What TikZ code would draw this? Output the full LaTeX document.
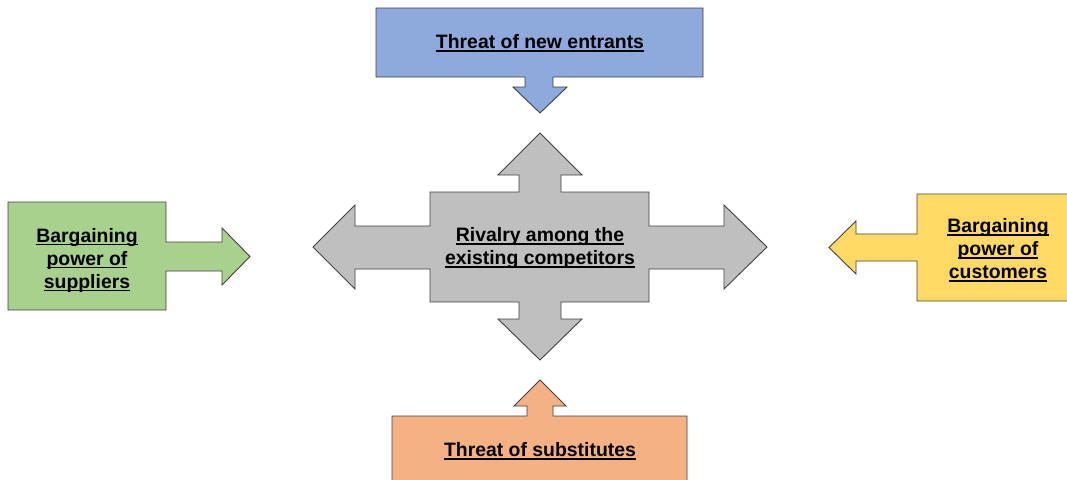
\documentclass[tikz,border=0pt]{standalone}
\usepackage{fontspec}
\setmainfont{Liberation Sans}

\definecolor{entrantblue}{HTML}{8EA9DB}
\definecolor{supplygreen}{HTML}{A9D18E}
\definecolor{customyellow}{HTML}{FFD966}
\definecolor{substorange}{HTML}{F4B183}
\definecolor{rivalgray}{HTML}{BFBFBF}

\newsavebox\ulinebox
\newcommand{\ulword}[1]{\sbox\ulinebox{#1}\rlap{\rule[-3.2pt]{\wd\ulinebox}{1.5pt}}\usebox\ulinebox}

\tikzset{
    force/.style={draw=black!75, line width=0.9pt, line join=miter},
    forcetext/.style={font=\fontsize{19.4}{23}\selectfont\bfseries, align=center, inner sep=0pt}
}

\begin{document}
\begin{tikzpicture}[x=1pt, y=-1pt]
\useasboundingbox (0,0) rectangle (1067,479);

% ===== Top: new entrants =====
\draw[force, fill=entrantblue] (376,8) -- (703,8) -- (703,77) -- (553,77) -- (553,87) -- (567,87)
    -- (540,113) -- (513,87) -- (525,87) -- (525,77) -- (376,77) -- cycle;
\node[forcetext] (entrants) at (540,43) {\ulword{Threat of new entrants}};

% ===== Left: suppliers =====
\draw[force, fill=supplygreen] (8,202) -- (166,202) -- (166,242) -- (222,242) -- (222,228) -- (250,256.5)
    -- (222,285) -- (222,271) -- (166,271) -- (166,310) -- (8,310) -- cycle;
\node[forcetext] (suppliers) at (87,260) {\ulword{Bargaining}\\\ulword{power of}\\\ulword{suppliers}};

% ===== Centre: rivalry =====
\draw[force, fill=rivalgray] (430,192) -- (519,192) -- (519,175) -- (498,175) -- (540,133) -- (582,175)
    -- (561,175) -- (561,192) -- (649,192) -- (649,226) -- (724,226) -- (724,205) -- (767,247)
    -- (724,289) -- (724,269) -- (649,269) -- (649,302) -- (561,302) -- (561,319) -- (582,319)
    -- (540,360) -- (498,319) -- (519,319) -- (519,302) -- (430,302) -- (430,269) -- (355,269)
    -- (355,289) -- (313,247) -- (355,205) -- (355,226) -- (430,226) -- cycle;
\node[forcetext] (rivalry) at (540,248) {\ulword{Rivalry among the}\\\ulword{existing competitors}};

% ===== Right: customers =====
\draw[force, fill=customyellow] (1070,194) -- (917,194) -- (917,234) -- (856,234) -- (856,221) -- (829,247.5)
    -- (856,274) -- (856,261) -- (917,261) -- (917,301) -- (1070,301);
\node[forcetext] (customers) at (998,250) {\ulword{Bargaining}\\\ulword{power of}\\\ulword{customers}};

% ===== Bottom: substitutes =====
\draw[force, fill=substorange] (392,485) -- (392,416) -- (527,416) -- (527,406) -- (514,406) -- (540,380)
    -- (566,406) -- (553,406) -- (553,416) -- (687,416) -- (687,485);
\node[forcetext] (substitutes) at (540,451) {\ulword{Threat of substitutes}};

\end{tikzpicture}
\end{document}
